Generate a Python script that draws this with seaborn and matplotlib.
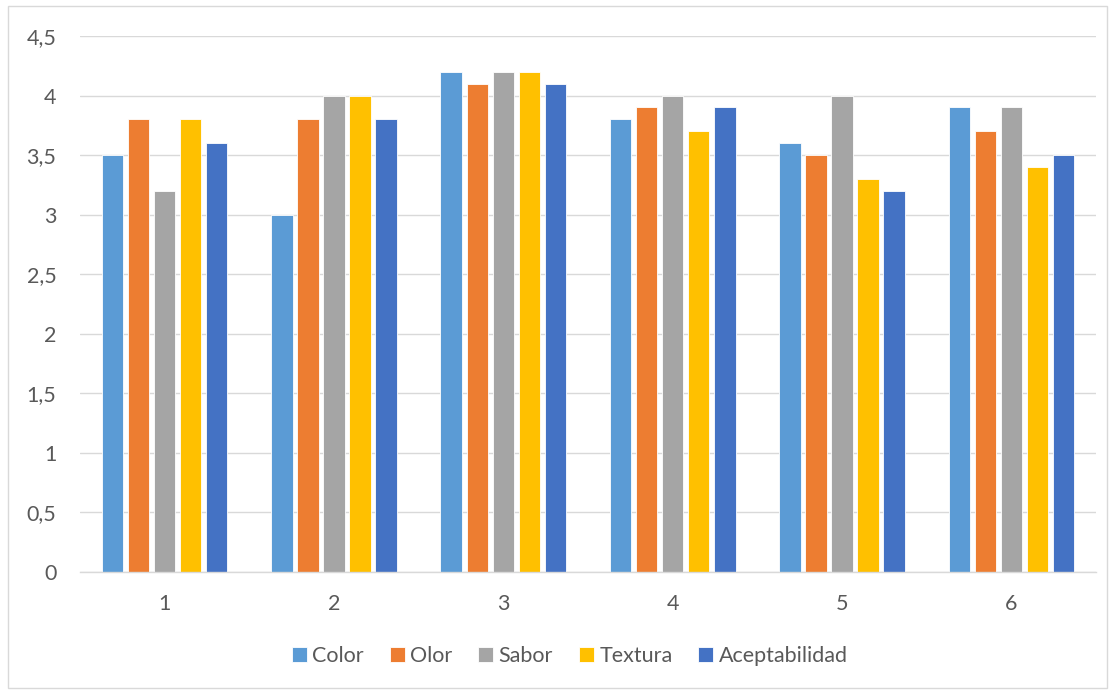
import matplotlib
matplotlib.use("Agg")
import matplotlib.pyplot as plt
import seaborn as sns
import pandas as pd
from matplotlib.patches import Rectangle
from matplotlib.ticker import FuncFormatter

groups = ["1", "2", "3", "4", "5", "6"]
series = ["Color", "Olor", "Sabor", "Textura", "Aceptabilidad"]
color_vals = [3.5, 3.0, 4.2, 3.8, 3.6, 3.9]
olor_vals = [3.8, 3.8, 4.1, 3.9, 3.5, 3.7]
sabor_vals = [3.2, 4.0, 4.2, 4.0, 4.0, 3.9]
textura_vals = [3.8, 4.0, 4.2, 3.7, 3.3, 3.4]
acept_vals = [3.6, 3.8, 4.1, 3.9, 3.2, 3.5]
y_ticks = [0, 0.5, 1, 1.5, 2, 2.5, 3, 3.5, 4, 4.5]

palette = ["#5B9BD5", "#ED7D31", "#A5A5A5", "#FFC000", "#4472C4"]

rows = []
for name, vals in zip(series, [color_vals, olor_vals, sabor_vals, textura_vals, acept_vals]):
    for g, v in zip(groups, vals):
        rows.append({"grupo": g, "serie": name, "valor": v})
df = pd.DataFrame(rows)

sns.set_theme(style="white")
plt.rcParams['font.family'] = ['Lato', 'DejaVu Sans']

fig = plt.figure(figsize=(11.15, 6.92), dpi=100)
ax = fig.add_axes([0.0717, 0.1734, 0.9113, 0.7746])

sns.barplot(data=df, x="grupo", y="valor", hue="serie", order=groups,
            hue_order=series, palette=palette, width=0.77, gap=0.18,
            edgecolor="white", linewidth=0.6, saturation=1, ax=ax, legend=True)

ax.set_ylim(0, 4.5)
ax.set_yticks(y_ticks)
ax.yaxis.set_major_formatter(FuncFormatter(lambda v, p: ("%g" % v).replace(".", ",")))
ax.set_xlim(-0.5, 5.5)
ax.set_xlabel("")
ax.set_ylabel("")
ax.grid(axis="y", color="#D9D9D9", linewidth=1.0)
ax.set_axisbelow(True)
for s in ["top", "right", "left"]:
    ax.spines[s].set_visible(False)
ax.spines["bottom"].set_color("#D9D9D9")
ax.spines["bottom"].set_linewidth(1.0)
ax.tick_params(axis="both", length=0, labelsize=15.5, colors="#595959")
ax.tick_params(axis="y", pad=17)
ax.tick_params(axis="x", pad=16)

leg = ax.get_legend()
handles = leg.legend_handles
leg.remove()
fig.legend(handles, series, loc="center", bbox_to_anchor=(0.511, 0.052), ncol=5,
           frameon=False, fontsize=15.5, handlelength=0.7, handleheight=0.7,
           handletextpad=0.25, columnspacing=1.2, labelcolor="#595959")

fig.patches.append(Rectangle((0.007, 0.006), 0.986, 0.985, transform=fig.transFigure,
                             fill=False, edgecolor="#D9D9D9", linewidth=1.0))

fig.savefig("out.png", dpi=100)
